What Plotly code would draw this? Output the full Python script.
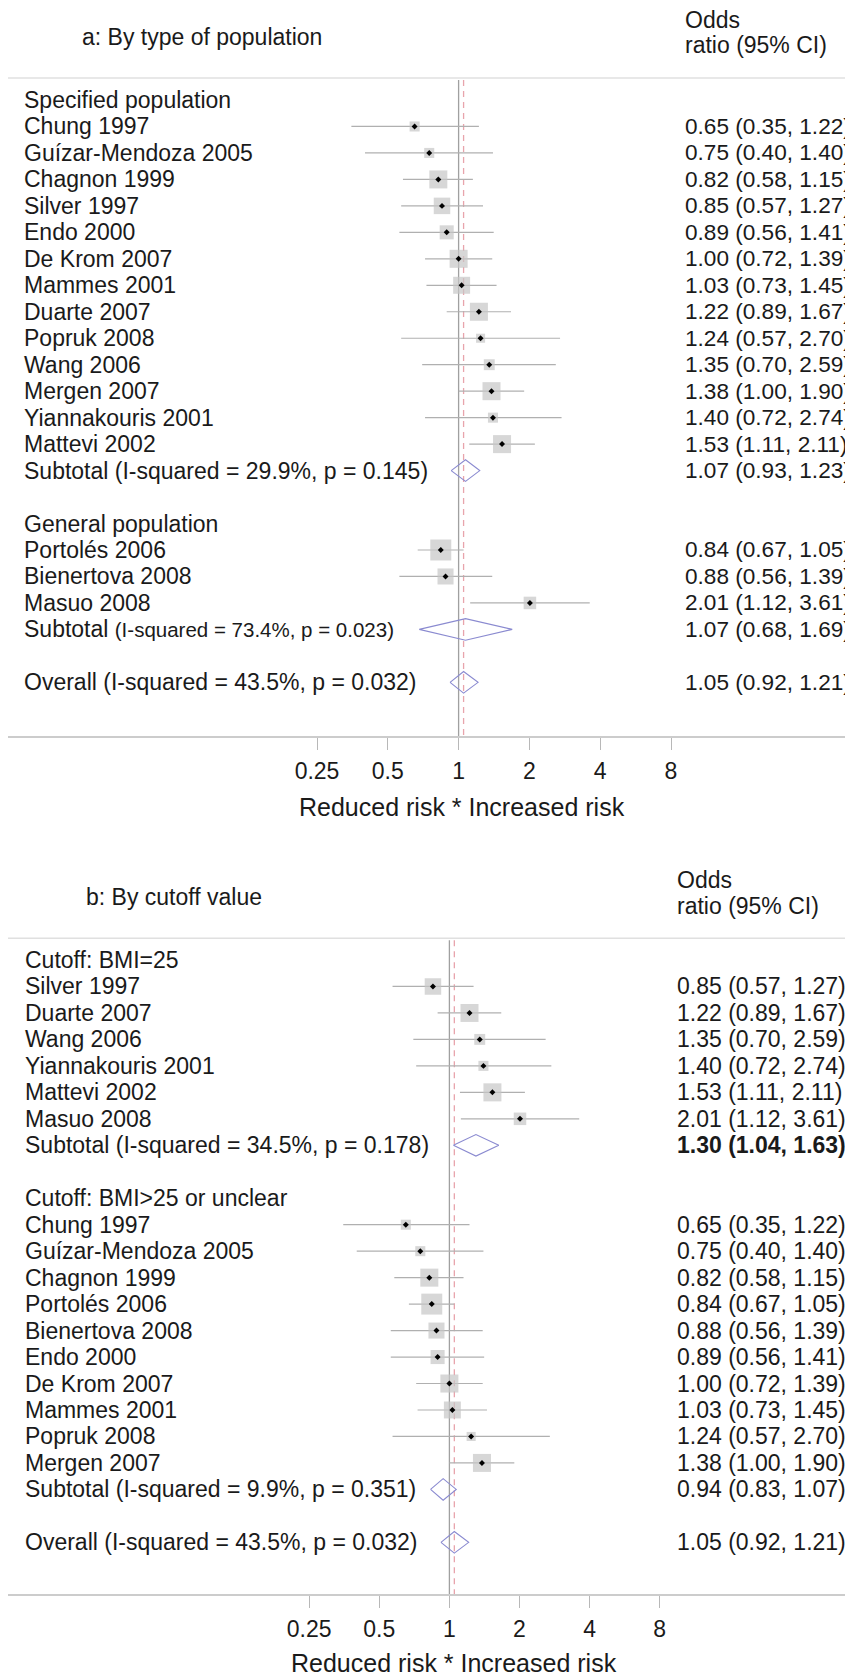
import math
import plotly.graph_objects as go

# ---------------- data ----------------
study_names = ["Chung 1997", "Guízar-Mendoza 2005", "Chagnon 1999", "Silver 1997",
               "Endo 2000", "De Krom 2007", "Mammes 2001", "Duarte 2007",
               "Popruk 2008", "Wang 2006", "Mergen 2007", "Yiannakouris 2001",
               "Mattevi 2002", "Portolés 2006", "Bienertova 2008", "Masuo 2008"]
odds_ratio = [0.65, 0.75, 0.82, 0.85, 0.89, 1.00, 1.03, 1.22, 1.24, 1.35, 1.38, 1.40, 1.53, 0.84, 0.88, 2.01]
ci_low     = [0.35, 0.40, 0.58, 0.57, 0.56, 0.72, 0.73, 0.89, 0.57, 0.70, 1.00, 0.72, 1.11, 0.67, 0.56, 1.12]
ci_high    = [1.22, 1.40, 1.15, 1.27, 1.41, 1.39, 1.45, 1.67, 2.70, 2.59, 1.90, 2.74, 2.11, 1.05, 1.39, 3.61]
weight_pct = [2.7, 2.7, 8.7, 7.3, 5.3, 8.7, 7.7, 8.7, 2.2, 3.2, 8.7, 2.7, 8.7, 11.8, 6.9, 4.2]

# panel a groups
a_group_titles = ["Specified population", "General population"]
a_group_members = [
    ["Chung 1997", "Guízar-Mendoza 2005", "Chagnon 1999", "Silver 1997", "Endo 2000",
     "De Krom 2007", "Mammes 2001", "Duarte 2007", "Popruk 2008", "Wang 2006",
     "Mergen 2007", "Yiannakouris 2001", "Mattevi 2002"],
    ["Portolés 2006", "Bienertova 2008", "Masuo 2008"],
]
a_subtotal_or = [1.07, 1.07]
a_subtotal_lo = [0.93, 0.68]
a_subtotal_hi = [1.23, 1.69]
a_subtotal_label = ["Subtotal (I-squared = 29.9%, p = 0.145)",
                    "Subtotal <span style='font-size:20.5px'>(I-squared = 73.4%, p = 0.023)</span>"]

# panel b groups
b_group_titles = ["Cutoff: BMI=25", "Cutoff: BMI>25 or unclear"]
b_group_members = [
    ["Silver 1997", "Duarte 2007", "Wang 2006", "Yiannakouris 2001", "Mattevi 2002", "Masuo 2008"],
    ["Chung 1997", "Guízar-Mendoza 2005", "Chagnon 1999", "Portolés 2006", "Bienertova 2008",
     "Endo 2000", "De Krom 2007", "Mammes 2001", "Popruk 2008", "Mergen 2007"],
]
b_subtotal_or = [1.30, 0.94]
b_subtotal_lo = [1.04, 0.83]
b_subtotal_hi = [1.63, 1.07]
b_subtotal_label = ["Subtotal (I-squared = 34.5%, p = 0.178)",
                    "Subtotal (I-squared = 9.9%, p = 0.351)"]
b_subtotal_bold = [True, False]

overall_or, overall_lo, overall_hi = 1.05, 0.92, 1.21
overall_label = "Overall (I-squared = 43.5%, p = 0.032)"

tick_vals = [0.25, 0.5, 1, 2, 4, 8]
tick_text = ["0.25", "0.5", "1", "2", "4", "8"]
axis_title = "Reduced risk * Increased risk"
panel_titles = ["a: By type of population", "b: By cutoff value"]

# ---------------- layout constants (page pixels) ----------------
PAGE_W, PAGE_H = 853, 1678
OFF = 8                      # default body margin of the html page
W, H = PAGE_W - OFF, PAGE_H - OFF
FONT = "Liberation Sans, Arial, sans-serif"
TXT = "#1a1a1a"
FS = 23
ROW_PX = 26.47


def px_x(px):
    return (px - OFF) / W


def px_y(px):
    return 1 - (px - OFF) / H


panels = [
    dict(titles=a_group_titles, members=a_group_members, s_or=a_subtotal_or, s_lo=a_subtotal_lo,
         s_hi=a_subtotal_hi, s_lab=a_subtotal_label, s_bold=[False, False],
         row0=100.0, axis_px=736.0, top_px=8.0, sep_px=78.0, title_px=37.0, odds_px=20.0,
         x1_px=458.6, dbl_px=70.8, left_px=22.0, right_px=683.0, right_fs=22.6, head_x=683.0,
         title_x=80.0, axt_x=462.0, axt_y=806.7, xax="x", yax="y"),
    dict(titles=b_group_titles, members=b_group_members, s_or=b_subtotal_or, s_lo=b_subtotal_lo,
         s_hi=b_subtotal_hi, s_lab=b_subtotal_label, s_bold=b_subtotal_bold,
         row0=960.0, axis_px=1594.3, top_px=839.0, sep_px=938.3, title_px=896.7, odds_px=880.0,
         x1_px=449.4, dbl_px=70.1, left_px=23.4, right_px=674.6, right_fs=23, head_x=674.6,
         title_x=84.0, axt_x=454.0, axt_y=1662.5, xax="x2", yax="y2"),
]

fig = go.Figure()
annotations = []
shapes = []
layout_axes = {}


def txt(x, y, text, yref, size=FS, anchor="left", xref="paper"):
    return dict(x=x, y=y, xref=xref, yref=yref, text=text, showarrow=False,
                xanchor=anchor, yanchor="middle", font=dict(size=size, color=TXT, family=FONT))


for pi, P in enumerate(panels):
    ci_x, ci_y = [], []
    bx, by, bs = [], [], []
    dia_x, dia_y = [], []
    r = 0
    half = 10.8 / ROW_PX
    lx, rx, rfs = px_x(P["left_px"]), px_x(P["right_px"]), P["right_fs"]
    for gi, title in enumerate(P["titles"]):
        annotations.append(txt(lx, r, title, P["yax"]))
        r += 1
        for name in P["members"][gi]:
            i = study_names.index(name)
            annotations.append(txt(lx, r, name, P["yax"]))
            annotations.append(txt(rx, r, f"{odds_ratio[i]:.2f} ({ci_low[i]:.2f}, {ci_high[i]:.2f})",
                                   P["yax"], size=rfs))
            ci_x += [ci_low[i], ci_high[i], None]
            ci_y += [r, r, None]
            bx.append(odds_ratio[i]); by.append(r); bs.append(6.11 * math.sqrt(weight_pct[i]))
            r += 1
        so, sl, sh = P["s_or"][gi], P["s_lo"][gi], P["s_hi"][gi]
        annotations.append(txt(lx, r, P["s_lab"][gi], P["yax"]))
        t = f"{so:.2f} ({sl:.2f}, {sh:.2f})"
        if P["s_bold"][gi]:
            t = f"<b>{t}</b>"
        annotations.append(txt(rx, r, t, P["yax"], size=rfs))
        dia_x += [sl, so, sh, so, sl, None]
        dia_y += [r, r - half, r, r + half, r, None]
        r += 2
    annotations.append(txt(lx, r, overall_label, P["yax"]))
    annotations.append(txt(rx, r, f"{overall_or:.2f} ({overall_lo:.2f}, {overall_hi:.2f})",
                           P["yax"], size=rfs))
    dia_x += [overall_lo, overall_or, overall_hi, overall_or, overall_lo, None]
    dia_y += [r, r - half, r, r + half, r, None]

    r_axis = (P["axis_px"] - P["row0"]) / ROW_PX
    r_top = (P["top_px"] - P["row0"]) / ROW_PX
    r_sep = (P["sep_px"] + 2 - P["row0"]) / ROW_PX

    shapes.append(dict(type="line", xref=P["xax"], yref=P["yax"], x0=1, x1=1, y0=r_sep, y1=r_axis,
                       line=dict(color="#a0a0a0", width=1.3), layer="below"))
    shapes.append(dict(type="line", xref=P["xax"], yref=P["yax"], x0=overall_or, x1=overall_or,
                       y0=r_sep, y1=r_axis, line=dict(color="#e8a4ac", width=1.3, dash="6px,5px"),
                       layer="below"))
    shapes.append(dict(type="line", xref="paper", yref="paper", x0=0, x1=1,
                       y0=px_y(P["sep_px"]), y1=px_y(P["sep_px"]),
                       line=dict(color="#e0e0e0", width=1.5)))

    fig.add_trace(go.Scatter(x=ci_x, y=ci_y, mode="lines", xaxis=P["xax"], yaxis=P["yax"],
                             line=dict(color="#b0b0b0", width=1.2), hoverinfo="skip", showlegend=False))
    fig.add_trace(go.Scatter(x=bx, y=by, mode="markers", xaxis=P["xax"], yaxis=P["yax"],
                             marker=dict(symbol="square", size=bs, color="#c6c6c6", line=dict(width=0)),
                             showlegend=False))
    fig.add_trace(go.Scatter(x=bx, y=by, mode="markers", xaxis=P["xax"], yaxis=P["yax"],
                             marker=dict(symbol="diamond", size=4.6, color="#000000", line=dict(width=0)),
                             showlegend=False))
    fig.add_trace(go.Scatter(x=dia_x, y=dia_y, mode="lines", xaxis=P["xax"], yaxis=P["yax"],
                             line=dict(color="#8a8ad0", width=1.1), hoverinfo="skip", showlegend=False))

    annotations.append(txt(px_x(P["title_x"]), px_y(P["title_px"]), panel_titles[pi], "paper"))
    hx = px_x(P["head_x"])
    annotations.append(txt(hx, px_y(P["odds_px"]), "Odds", "paper"))
    annotations.append(txt(hx, px_y(P["odds_px"] + 25.5), "ratio (95% CI)", "paper"))
    annotations.append(txt(px_x(P["axt_x"]), px_y(P["axt_y"]), axis_title, "paper", size=25, anchor="center"))

    k = P["dbl_px"] / math.log10(2)
    lo_log = (OFF - P["x1_px"]) / k
    hi_log = (PAGE_W - P["x1_px"]) / k
    xname = "xaxis" if P["xax"] == "x" else "xaxis2"
    yname = "yaxis" if P["yax"] == "y" else "yaxis2"
    layout_axes[xname] = dict(type="log", domain=[0, 1], range=[lo_log, hi_log], anchor=P["yax"],
                              tickvals=tick_vals, ticktext=tick_text, ticks="outside", ticklen=12,
                              tickwidth=1, tickcolor="#b8b8b8", showline=True, linecolor="#cccccc",
                              linewidth=2, showgrid=False, zeroline=False, ticklabelstandoff=1,
                              tickfont=dict(size=FS, color=TXT, family=FONT), fixedrange=True)
    layout_axes[yname] = dict(domain=[px_y(P["axis_px"]), px_y(P["top_px"])], range=[r_axis, r_top],
                              anchor=P["xax"], showgrid=False, zeroline=False, showticklabels=False,
                              showline=False, ticks="", fixedrange=True)

fig.update_layout(width=W, height=H, margin=dict(l=0, r=0, t=0, b=0),
                  paper_bgcolor="white", plot_bgcolor="white",
                  annotations=annotations, shapes=shapes, showlegend=False, **layout_axes)

fig.write_html("out.html")
